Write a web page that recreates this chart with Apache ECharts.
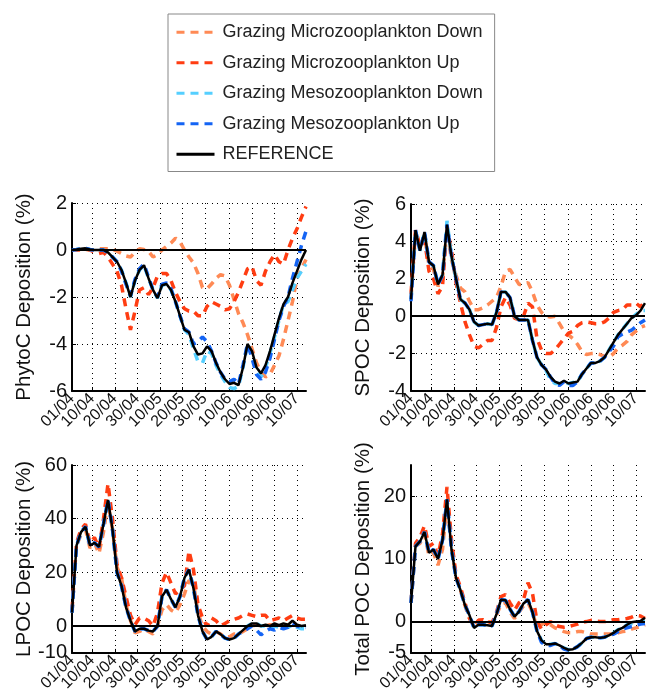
<!DOCTYPE html>
<html>
<head>
<meta charset="utf-8">
<script src="https://cdn.jsdelivr.net/npm/echarts@6/dist/echarts.min.js"></script>
<style>
  html, body { margin: 0; padding: 0; background: #fff; }
  #chart { width: 646px; height: 694px; }
</style>
</head>
<body>
<div id="chart"></div>
<script>
// days since 01/04
var days = [0, 2, 4, 6, 8, 10, 12, 14, 16, 18,
  20, 22, 24, 26, 28, 30, 32, 34, 36, 38,
  40, 42, 44, 46, 48, 50, 52, 54, 56, 58,
  60, 62, 64, 66, 68, 70, 72, 74, 76, 78,
  80, 82, 84, 86, 88, 90, 92, 94, 96, 98,
  100, 102, 104];

var tickDays = [0, 9, 19, 29, 39, 49, 59, 70, 80, 90, 100];
var tickLabels = ['01/04', '10/04', '20/04', '30/04', '10/05', '20/05', '30/05', '10/06', '20/06', '30/06', '10/07'];

var seriesNames = ['Grazing Microzooplankton Down', 'Grazing Microzooplankton Up',
  'Grazing Mesozooplankton Down', 'Grazing Mesozooplankton Up', 'REFERENCE'];
var seriesColors = ['#FF8A55', '#FF3D12', '#55CFFF', '#1464F4', '#000000'];

// PhytoC
var phytoMicroDown = [0, 0, 0, 0.02, 0, 0, 0.05, 0.05, 0.05, 0.02,
  -0.05, -0.15, -0.25, -0.3, -0.1, 0.05, 0.02, -0.05, -0.3, -0.2,
  0, 0.15, 0.3, 0.5, 0.35, 0, -0.3, -0.55, -1.0, -1.6,
  -1.65, -1.45, -1.2, -1.05, -1.1, -1.5, -2.1, -2.7, -3.1, -3.6,
  -4.2, -4.8, -5.2, -5.4, -5.3, -4.9, -4.5, -3.8, -3.0, -2.2,
  -1.2, -0.8, -0.4];
var phytoMicroUp = [0, 0, 0.03, 0.05, 0, -0.1, -0.15, -0.1, -0.3, -0.6,
  -0.9, -1.5, -2.5, -3.4, -2.6, -1.7, -1.6, -1.9, -1.6, -1.1,
  -1.0, -1.0, -1.3, -1.8, -2.2, -2.5, -2.6, -2.6, -2.8, -2.8,
  -2.4, -2.2, -2.3, -2.4, -2.55, -2.5, -2.2, -1.8, -1.3, -0.8,
  -0.7, -1.3, -1.5, -0.9, -0.5, -0.2, -0.5, -0.6, 0, 0.5,
  0.9, 1.4, 1.85];
var phytoMesoDown = [0, 0.02, 0.05, 0.07, 0.02, 0, 0, 0, -0.1, -0.3,
  -0.5, -0.85, -1.4, -2.0, -1.3, -0.85, -0.65, -1.2, -1.7, -2.05,
  -1.5, -1.45, -1.7, -2.2, -2.8, -3.4, -3.6, -4.2, -4.75, -4.8,
  -4.3, -4.4, -4.9, -5.3, -5.6, -5.85, -5.9, -5.8, -5.0, -4.0,
  -4.4, -5.1, -5.4, -5.0, -4.4, -3.7, -3.0, -2.3, -2.2, -1.7,
  -1.2, -0.9, -0.6];
var phytoMesoUp = [0, 0.02, 0.05, 0.07, 0.02, 0, 0, 0, -0.1, -0.3,
  -0.5, -0.9, -1.45, -1.95, -1.25, -0.8, -0.6, -1.15, -1.7, -2.0,
  -1.45, -1.4, -1.65, -2.2, -2.8, -3.35, -3.5, -4.0, -3.9, -3.7,
  -3.9, -4.3, -4.8, -5.2, -5.5, -5.6, -5.5, -5.7, -4.9, -4.0,
  -4.6, -5.3, -5.5, -5.2, -4.6, -3.8, -3.0, -2.4, -2.0, -1.2,
  -0.5, 0.2, 0.8];
var phytoRef = [0, 0.02, 0.05, 0.07, 0.02, 0, 0, 0, -0.1, -0.3,
  -0.5, -0.85, -1.4, -2.0, -1.3, -0.85, -0.65, -1.2, -1.7, -2.05,
  -1.5, -1.45, -1.7, -2.2, -2.8, -3.4, -3.5, -4.1, -4.45, -4.4,
  -4.1, -4.3, -4.8, -5.2, -5.5, -5.7, -5.65, -5.75, -5.0, -4.0,
  -4.3, -5.0, -5.25, -4.9, -4.3, -3.6, -2.9, -2.3, -2.0, -1.4,
  -0.9, -0.4, 0];

// SPOC
var spocMicroDown = [1.0, 4.4, 3.6, 4.3, 2.7, 2.5, 1.6, 2.0, 4.7, 3.0,
  2.2, 1.5, 1.3, 0.8, 0.35, 0.35, 0.45, 0.6, 0.8, 1.0,
  1.6, 2.4, 2.5, 2.1, 1.7, 1.7, 1.8, 1.3, 0.6, 0.2,
  0, -0.05, 0, -0.4, -0.8, -1.0, -1.2, -1.5, -1.9, -2.05,
  -2.0, -2.0, -2.05, -2.15, -2.2, -2.0, -1.7, -1.55, -1.35, -1.0,
  -0.8, -0.6, -0.5];
var spocMicroUp = [1.2, 4.6, 3.8, 4.1, 2.4, 2.0, 1.2, 1.6, 4.8, 3.5,
  1.8, 0.7, -0.3, -1.0, -1.6, -1.7, -1.5, -1.3, -1.3, -0.6,
  0.5, 1.0, 0.6, -0.1, -0.2, 0.0, 0.7, 0.5, -1.2, -1.8,
  -2.0, -2.0, -1.8, -1.5, -1.2, -0.9, -0.8, -0.5, -0.35, -0.3,
  -0.35, -0.4, -0.4, -0.3, -0.1, 0.2, 0.3, 0.35, 0.6, 0.6,
  0.7, 0.5, 0.8];
var spocMesoDown = [0.9, 4.6, 3.5, 4.5, 2.9, 2.7, 1.7, 2.2, 5.1, 3.2,
  2.0, 0.9, 0.7, 0.35, -0.3, -0.5, -0.45, -0.4, -0.45, 0.2,
  1.3, 1.3, 1.0, 0, -0.2, -0.2, -0.2, -1.3, -2.2, -2.6,
  -2.9, -3.4, -3.6, -3.6, -3.55, -3.6, -3.55, -3.5, -3.1, -2.8,
  -2.5, -2.5, -2.4, -2.2, -1.8, -1.4, -1.0, -0.7, -0.4, -0.1,
  0.1, 0.3, 0.3];
var spocMesoUp = [0.8, 4.6, 3.5, 4.5, 2.9, 2.7, 1.7, 2.2, 4.9, 3.2,
  2.0, 0.9, 0.7, 0.35, -0.3, -0.5, -0.45, -0.4, -0.45, 0.2,
  1.3, 1.3, 1.0, 0, -0.2, -0.2, -0.2, -1.3, -2.2, -2.6,
  -2.85, -3.25, -3.6, -3.7, -3.5, -3.7, -3.7, -3.5, -3.1, -2.8,
  -2.5, -2.5, -2.4, -2.2, -1.9, -1.6, -1.1, -0.95, -0.85, -0.75,
  -0.55, -0.35, -0.2];
var spocRef = [0.9, 4.6, 3.5, 4.5, 2.9, 2.7, 1.7, 2.2, 4.9, 3.2,
  2.0, 0.9, 0.7, 0.35, -0.3, -0.5, -0.45, -0.4, -0.45, 0.2,
  1.3, 1.3, 1.0, 0, -0.2, -0.2, -0.2, -1.3, -2.2, -2.6,
  -2.85, -3.25, -3.5, -3.6, -3.45, -3.6, -3.55, -3.5, -3.1, -2.8,
  -2.5, -2.5, -2.4, -2.2, -1.8, -1.4, -1.0, -0.7, -0.4, -0.1,
  0.05, 0.3, 0.7];

// LPOC
var lpocMicroDown = [5, 30, 34, 36, 29, 31, 27, 35, 46, 36,
  22, 18, 8, 2, -2.5, -2, -1, -2, -3, 0,
  6, 8, 6, 5, 8, 12, 17, 16, 5, 0,
  -2, -3, -2, -3, -4, -4, -3, -3, -2, -1,
  0, 0.5, 0, 0, 0.5, 0, 0.5, 0, 0.5, 1,
  0, 0, 0];
var lpocMicroUp = [6, 31, 36, 38, 31, 33, 29, 40, 53, 40,
  23, 18, 11, 4, 0.5, 3, 3, 2, 0, 5,
  16, 20, 16, 12, 13.5, 15, 28, 21, 8, 3,
  0, 3, 2, 0, 1, 2, 2.5, 3, 4, 4.5,
  4, 3.5, 4, 4, 2, 2.5, 3, 2, 3, 4,
  3, 2.5, 2.5];
var lpocMesoDown = [5, 30, 35, 37, 30, 31, 29.5, 38, 47, 36,
  20, 15, 7, 2, -2, -1, -1, -1.7, -2, 0,
  11, 13.5, 10, 7, 11, 18, 21, 14, 4, -2,
  -5, -4, -2, -3, -4.5, -5, -4.5, -3, -1.5, 0,
  1, 1, 0, 0, -0.5, 0, -0.5, 0, -0.5, 0.5,
  -0.5, -1, -1];
var lpocMesoUp = [5, 30, 35, 37, 30, 31, 29.5, 38, 47, 36,
  20, 15, 7, 2, -2, -1, -1, -1.7, -2, 0,
  11, 13.5, 10, 7, 11, 18, 21, 14, 4, -2,
  -5, -4, -2, -3, -4.5, -5, -4.5, -3, -2, -1,
  0, -1.5, -3.3, -2, -1, -1.5, -0.5, -1, -0.5, 1,
  0, -0.5, -0.5];
var lpocRef = [5, 30, 35, 37, 30, 31, 29.5, 38, 47, 36,
  20, 15, 7, 2, -2, -1, -1, -1.7, -2, 0,
  11, 13.5, 10, 7, 11, 18, 21, 14, 4, -2,
  -5, -4, -2, -3, -4.5, -5, -4.5, -3, -1.5, 0,
  1, 1, 0, 0.5, 0, 1, 0.3, 1, 0.5, 2,
  0.5, 0, 0.3];

// Total POC
var totMicroDown = [3, 12, 12.5, 14, 10.5, 11, 9, 11.5, 19, 12,
  7, 5, 2.5, 0.5, -0.8, 0.2, 0.2, 0, -0.2, 1,
  2.8, 3, 1.5, 0.5, 1.5, 2.5, 3, 1.5, -1, -0.5,
  0, -0.5, -1.0, -1.3, -1.6, -1.8, -1.8, -1.6, -1.6, -1.8,
  -2, -2, -2, -2, -2, -2, -1.8, -1.6, -1.5, -1.2,
  -1.0, -0.8, -0.5];
var totMicroUp = [3, 12.5, 13.5, 15.3, 12, 12.5, 10.5, 14, 21.5, 13,
  7.5, 5.5, 3, 0.5, -0.7, 0.2, 0.3, 0, -0.2, 1.5,
  4, 4.3, 3, 1.8, 3, 3.5, 6.2, 4.5, 0, -1.2,
  -0.5, 0, -0.5, -0.8, -0.9, -0.8, -0.6, -0.4, -0.1, 0,
  0.2, 0.1, 0, 0, 0.1, 0.3, 0.3, 0.4, 0.5, 0.7,
  1.0, 0.9, 0.5];
var totMesoDown = [3, 12, 12.8, 14.3, 11, 11.5, 10, 13, 19.5, 11.5,
  7, 5, 2.6, 1, -1, -0.5, -0.5, -0.6, -0.7, 1.2,
  3.5, 3.4, 2, 0.8, 1.6, 2.9, 3.5, 1.5, -1.5, -3,
  -3.7, -3.6, -3.5, -3.8, -4.2, -4.5, -4.4, -4.0, -3.4, -2.7,
  -2.5, -2.5, -2.6, -2.5, -2.2, -1.8, -1.3, -1.0, -0.5, -0.3,
  -0.1, 0, 0];
var totMesoUp = [3, 12, 12.8, 14.3, 11, 11.5, 10, 13, 19.5, 11.5,
  7, 5, 2.6, 1, -1, -0.5, -0.5, -0.6, -0.7, 1.2,
  3.5, 3.4, 2, 0.8, 1.6, 2.9, 3.5, 1.5, -1.5, -3.3,
  -3.8, -3.8, -3.5, -3.8, -4.4, -4.6, -4.4, -4.0, -3.4, -2.7,
  -2.5, -2.5, -2.6, -2.5, -2.2, -2.0, -1.6, -1.2, -1.0, -0.8,
  -0.6, -0.4, -0.3];
var totRef = [3, 12, 12.8, 14.3, 11, 11.5, 10, 13, 19.5, 11.5,
  7, 5, 2.6, 1, -1, -0.5, -0.5, -0.6, -0.7, 1.2,
  3.5, 3.4, 2, 0.8, 1.6, 2.9, 3.5, 1.5, -1.5, -3,
  -3.6, -3.6, -3.5, -3.8, -4.2, -4.5, -4.4, -4.0, -3.4, -2.7,
  -2.5, -2.5, -2.6, -2.5, -2.2, -1.8, -1.3, -1.0, -0.5, -0.1,
  0, 0.1, 0.6];

var yTicks1 = [-6, -4, -2, 0, 2];
var yTicks2 = [-4, -2, 0, 2, 4, 6];
var yTicks3 = [-10, 0, 20, 40, 60];
var yTicks4 = [-5, 0, 10, 20];

var panels = [
  { name: 'PhytoC Deposition (%)', min: -6, max: 2, ticks: yTicks1,
    data: [phytoMicroDown, phytoMicroUp, phytoMesoDown, phytoMesoUp, phytoRef] },
  { name: 'SPOC Deposition (%)', min: -4, max: 6, ticks: yTicks2,
    data: [spocMicroDown, spocMicroUp, spocMesoDown, spocMesoUp, spocRef] },
  { name: 'LPOC Deposition (%)', min: -10, max: 60, ticks: yTicks3,
    data: [lpocMicroDown, lpocMicroUp, lpocMesoDown, lpocMesoUp, lpocRef] },
  { name: 'Total POC Deposition (%)', min: -5, max: 25, ticks: yTicks4,
    data: [totMicroDown, totMicroUp, totMesoDown, totMesoUp, totRef] }
];

var gridBoxes = [
  { left: 72, top: 203, width: 234, height: 188 },
  { left: 411, top: 204, width: 234, height: 187 },
  { left: 72, top: 465, width: 234, height: 189 },
  { left: 411, top: 465, width: 234, height: 189 }
];

var font = '"Liberation Sans", Arial, sans-serif';
var dotted = { color: '#000', type: [1, 4], width: 1 };

// x labels split over two stacked axes so crowded neighbours are not dropped
var evenTicks = tickDays.filter(function (d, i) { return i % 2 === 0; });
var oddTicks = tickDays.filter(function (d, i) { return i % 2 === 1; });

function dateLabel(v) {
  var i = tickDays.indexOf(v);
  return i >= 0 ? tickLabels[i] : '';
}

var grids = [], xAxes = [], yAxes = [], series = [];
panels.forEach(function (p, k) {
  grids.push(gridBoxes[k]);
  var labelBase = {
    rotate: 45, fontSize: 16, margin: 5,
    showMinLabel: true, showMaxLabel: true, hideOverlap: false,
    color: '#111', fontFamily: font, formatter: dateLabel
  };
  xAxes.push({
    type: 'value', gridIndex: k, min: 0, max: 104, position: 'bottom',
    axisLine: { onZero: false, lineStyle: { color: '#000', width: 2 } },
    axisTick: { inside: true, length: 4, customValues: tickDays, lineStyle: { color: '#000' } },
    axisLabel: Object.assign({ customValues: evenTicks }, labelBase),
    splitLine: { show: true, lineStyle: dotted }
  });
  xAxes.push({
    type: 'value', gridIndex: k, min: 0, max: 104, position: 'bottom',
    axisLine: { show: false, onZero: false },
    axisTick: { show: false },
    axisLabel: Object.assign({ customValues: oddTicks }, labelBase),
    splitLine: { show: false }
  });
  yAxes.push({
    type: 'value', gridIndex: k, min: p.min, max: p.max,
    name: p.name, nameLocation: 'middle', nameGap: 37, nameMoveOverlap: false,
    nameTextStyle: { fontSize: 20.5, color: '#111', fontFamily: font },
    axisLine: { show: true, lineStyle: { color: '#000', width: 2 } },
    axisTick: { inside: true, length: 4, customValues: p.ticks, lineStyle: { color: '#000' } },
    axisLabel: { customValues: p.ticks, fontSize: 20, margin: 5, color: '#111', fontFamily: font,
      showMinLabel: true, showMaxLabel: true, hideOverlap: false },
    splitLine: { show: true, lineStyle: dotted }
  });
  p.data.forEach(function (vals, j) {
    var isRef = j === 4;
    var s = {
      name: seriesNames[j], type: 'line', xAxisIndex: k * 2, yAxisIndex: k,
      symbol: 'none', showSymbol: false, smooth: false,
      data: days.map(function (d, i) { return [d, vals[i]]; }),
      lineStyle: { color: seriesColors[j], width: isRef ? 2.5 : 3.5, type: isRef ? 'solid' : [8, 6] },
      itemStyle: { color: seriesColors[j] }
    };
    if (j === 0) {
      s.markLine = {
        silent: true, symbol: 'none', label: { show: false },
        lineStyle: { color: '#000', type: 'solid', width: 2 },
        data: [{ yAxis: 0 }]
      };
    }
    series.push(s);
  });
});

var chart = echarts.init(document.getElementById('chart'));
chart.setOption({
  animation: false,
  backgroundColor: '#fff',
  legend: {
    data: seriesNames, orient: 'vertical', left: 168, top: 14,
    itemWidth: 38, itemHeight: 14, itemGap: 10,
    padding: [8, 12, 7, 7],
    borderColor: '#888', borderWidth: 1,
    itemStyle: { opacity: 0 },
    lineStyle: { width: 3 },
    textStyle: { fontSize: 18, color: '#222', fontFamily: font, lineHeight: 20.5, padding: [0, 0, 0, 3] }
  },
  grid: grids,
  xAxis: xAxes,
  yAxis: yAxes,
  series: series
});
</script>
</body>
</html>
